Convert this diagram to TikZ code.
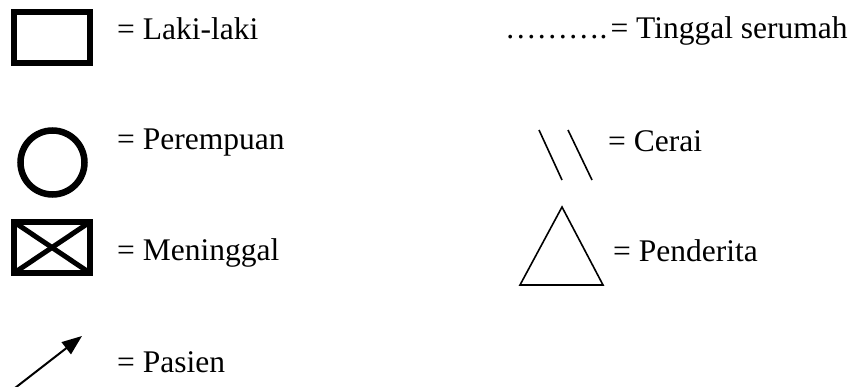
\documentclass[tikz,border=0pt]{standalone}
\usepackage{fontspec}
\setmainfont{Liberation Serif}
\usetikzlibrary{arrows.meta}
\begin{document}
\begin{tikzpicture}[x=1pt,y=-1pt,
  lbl/.style={anchor=base west,inner sep=0pt,font=\fontsize{31.5}{38}\selectfont},
  thickbox/.style={draw,line width=6pt,minimum width=76pt,minimum height=51pt,inner sep=0pt},
  thin/.style={line width=1.6pt}]
\useasboundingbox (0,0) rectangle (858,387);
% Laki-laki
\node[thickbox] (male) at (52,37.5) {};
\node[lbl] (tmale) at (117,40) {= Laki-laki};
% Perempuan
\node[draw,circle,line width=6.5pt,minimum size=64pt,inner sep=0pt] (female) at (52.5,162.5) {};
\node[lbl] (tfemale) at (117,150) {= Perempuan};
% Meninggal
\node[thickbox] (dead) at (52,247.5) {};
\begin{scope}
\clip ([shift={(3pt,-3pt)}]dead.north west) rectangle ([shift={(-3pt,3pt)}]dead.south east);
\draw[line width=5pt] ([shift={(3pt,-3pt)}]dead.north west) -- ([shift={(-3pt,3pt)}]dead.south east);
\draw[line width=5pt] ([shift={(3pt,3pt)}]dead.south west) -- ([shift={(-3pt,-3pt)}]dead.north east);
\end{scope}
\node[lbl] (tdead) at (117,260) {= Meninggal};
% Pasien
\coordinate (pa) at (15,388);
\coordinate (pb) at (82,336);
\draw[line width=2pt,-{Triangle[length=20pt,width=15pt]}] (pa) -- (pb);
\node[lbl] (tpasien) at (117,372) {= Pasien};
% Tinggal serumah
\node[lbl] (tserumah) at (505,39) {……….\kern3pt= Tinggal serumah};
% Cerai
\coordinate (c1a) at (539,130);
\coordinate (c1b) at (562,180);
\coordinate (c2a) at (568,130);
\coordinate (c2b) at (592,180);
\draw[thin] (c1a) -- (c1b);
\draw[thin] (c2a) -- (c2b);
\node[lbl] (tcerai) at (608,152) {= Cerai};
% Penderita
\coordinate (ta) at (562,207);
\coordinate (tb) at (520,285);
\coordinate (tc) at (603,285);
\draw[thin,line join=miter] (ta) -- (tb) -- (tc) -- cycle;
\node[lbl] (tpend) at (613,261) {= Penderita};
\end{tikzpicture}
\end{document}
